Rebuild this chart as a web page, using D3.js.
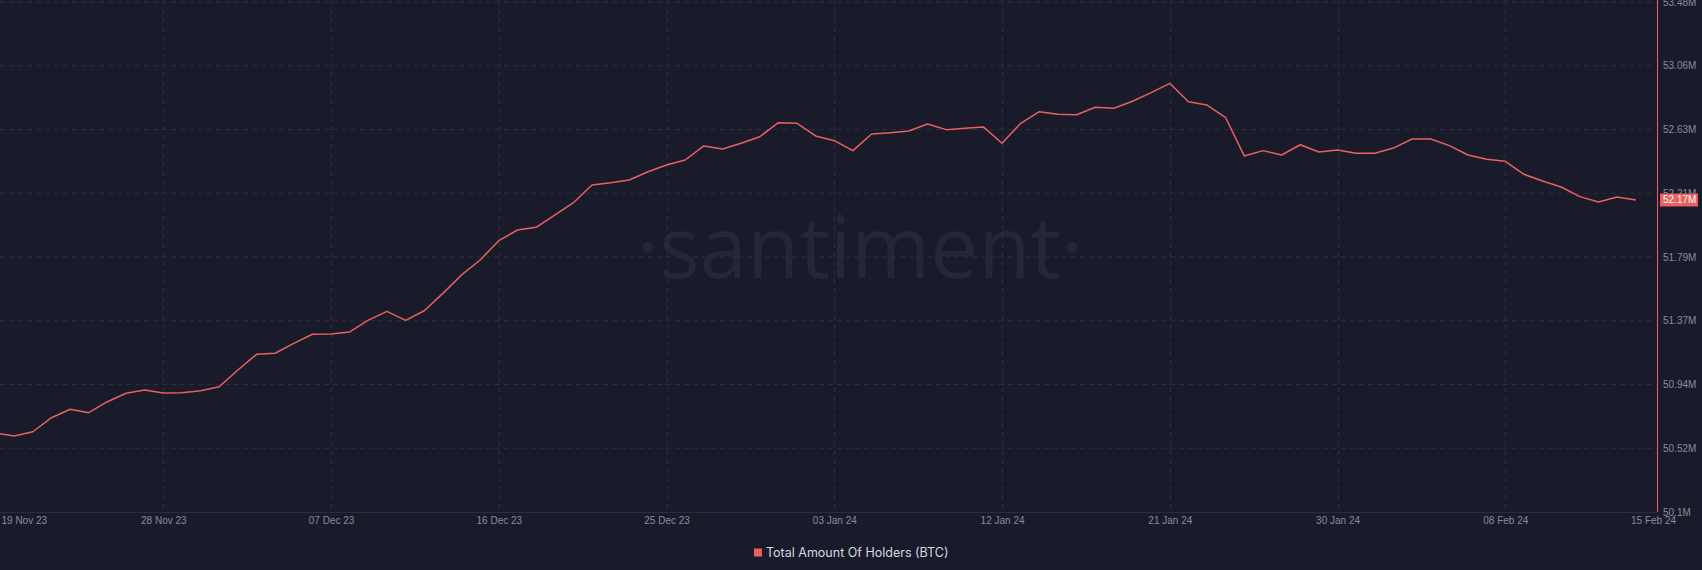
<!DOCTYPE html>
<html>
<head>
<meta charset="utf-8">
<script src="https://cdn.jsdelivr.net/npm/d3@7"></script>
<style>
  html, body { margin: 0; padding: 0; background: #1a1b2a; overflow: hidden; }
  svg { display: block; }
</style>
</head>
<body>
<svg id="chart" width="1702" height="570"></svg>
<script>
// ---------- DATA ----------
const startDate = "2023-11-19";
const endDate = "2024-02-15";
const seriesName = "Total Amount Of Holders (BTC)";
// daily values, in millions of holders
const holders = [
  50.624, 50.604, 50.632, 50.725, 50.781, 50.758, 50.831, 50.887, 50.909, 50.889, 50.891, 50.904,
  50.930, 51.041, 51.145, 51.152, 51.218, 51.278, 51.279, 51.293, 51.372, 51.430, 51.370, 51.434,
  51.549, 51.671, 51.770, 51.898, 51.969, 51.987, 52.068, 52.150, 52.267, 52.282, 52.300, 52.355,
  52.400, 52.433, 52.526, 52.506, 52.544, 52.587, 52.680,
  52.676, 52.592, 52.561, 52.495, 52.605, 52.614, 52.625, 52.671, 52.634, 52.643, 52.652, 52.544,
  52.676, 52.753, 52.736, 52.733, 52.782, 52.776, 52.822, 52.879, 52.941, 52.819, 52.797, 52.713,
  52.459, 52.495, 52.466, 52.534, 52.486, 52.499, 52.477,
  52.477, 52.512, 52.572, 52.572, 52.528, 52.466, 52.438, 52.424, 52.338, 52.294, 52.254, 52.190,
  52.155, 52.188, 52.168
];
const yTickValues = [50.1, 50.5225, 50.945, 51.3675, 51.79, 52.2125, 52.635, 53.0575, 53.48];
const yTickLabels = ["50.1M", "50.52M", "50.94M", "51.37M", "51.79M", "52.21M", "52.63M", "53.06M", "53.48M"];
const xTickDates = ["2023-11-19", "2023-11-28", "2023-12-07", "2023-12-16", "2023-12-25",
                    "2024-01-03", "2024-01-12", "2024-01-21", "2024-01-30", "2024-02-08", "2024-02-15"];
const xTickLabels = ["19 Nov 23", "28 Nov 23", "07 Dec 23", "16 Dec 23", "25 Dec 23",
                     "03 Jan 24", "12 Jan 24", "21 Jan 24", "30 Jan 24", "08 Feb 24", "15 Feb 24"];

// ---------- LAYOUT ----------
const W = 1702, H = 570;
const plot = { left: 0, right: 1657, top: 2, bottom: 512 };
const colors = {
  bg: "#1a1b2a", line: "#e8605f", grid: "#2a2d40", axis: "#2a2d3d",
  tick: "#868c9f", legend: "#d6d8e0", watermark: "#232739"
};

const parse = d3.utcParse("%Y-%m-%d");
const dates = d3.utcDay.range(parse(startDate), d3.utcDay.offset(parse(endDate), 1));
const data = dates.map((d, i) => ({ date: d, value: holders[i] }));

const svg = d3.select("#chart");
svg.append("rect").attr("width", W).attr("height", H).attr("fill", colors.bg);

// x scale: anchored so that the plot spans from 19 Nov ~05:40 to 16 Feb ~03:20
const x = d3.scaleUtc()
  .domain([parse("2023-11-28"), parse("2024-02-08")])
  .range([163.3, 1505.3]);
const y = d3.scaleLinear()
  .domain([yTickValues[0], yTickValues[yTickValues.length - 1]])
  .range([plot.bottom, plot.top]);

// watermark
const wm = svg.append("text")
  .attr("x", 860).attr("y", 278)
  .attr("text-anchor", "middle")
  .attr("font-family", "'Open Sans', 'Noto Sans', sans-serif")
  .attr("font-size", 110)
  .attr("fill", colors.watermark)
  .text("·santiment·");
const wmLen = wm.node().getComputedTextLength();
wm.attr("font-size", 110 * 447 / wmLen);

// grid
const grid = svg.append("g");
grid.selectAll("line.h")
  .data(yTickValues.slice(1))
  .join("line")
  .attr("x1", plot.left).attr("x2", plot.right)
  .attr("y1", d => y(d)).attr("y2", d => y(d))
  .attr("stroke", colors.grid).attr("stroke-width", 1)
  .attr("stroke-dasharray", "5,4");
grid.selectAll("line.v")
  .data(xTickDates.slice(1, -1).map(parse))
  .join("line")
  .attr("x1", d => Math.round(x(d)) + 0.5).attr("x2", d => Math.round(x(d)) + 0.5)
  .attr("y1", plot.top - 2).attr("y2", plot.bottom)
  .attr("stroke", colors.grid).attr("stroke-width", 1)
  .attr("stroke-dasharray", "5,4");

// bottom axis
const xAxis = d3.axisBottom(x)
  .tickValues(xTickDates.map(parse))
  .tickSize(0)
  .tickFormat((d, i) => xTickLabels[i]);
const gx = svg.append("g").attr("transform", `translate(0,${plot.bottom})`).call(xAxis);
gx.select(".domain").attr("stroke", colors.axis).attr("d", `M${plot.left},0.5H${plot.right}`);
gx.selectAll(".tick text")
  .attr("fill", colors.tick)
  .attr("font-family", "'Liberation Sans', Arial, sans-serif")
  .attr("font-size", 10)
  .attr("dy", "0.32em")
  .attr("y", 9);
const nTicks = xTickDates.length;
gx.selectAll(".tick").filter((d, i) => i === 0).select("text")
  .attr("text-anchor", "start").attr("x", 1 - x(parse(xTickDates[0])));
gx.selectAll(".tick").filter((d, i) => i === nTicks - 1).select("text")
  .attr("text-anchor", "middle").attr("x", plot.right - 4 - x(parse(xTickDates[nTicks - 1])));

// clip + line
svg.append("clipPath").attr("id", "clip")
  .append("rect").attr("x", plot.left).attr("y", 0)
  .attr("width", plot.right - plot.left).attr("height", plot.bottom);
const line = d3.line().x(d => x(d.date)).y(d => y(d.value));
svg.append("path")
  .datum(data)
  .attr("clip-path", "url(#clip)")
  .attr("fill", "none")
  .attr("stroke", colors.line)
  .attr("stroke-width", 1.5)
  .attr("stroke-linejoin", "round")
  .attr("d", line);

// right axis
const yAxis = d3.axisRight(y)
  .tickValues(yTickValues)
  .tickSize(0)
  .tickFormat((d, i) => yTickLabels[i]);
const gy = svg.append("g").attr("transform", `translate(${plot.right},0)`).call(yAxis);
gy.select(".domain").attr("stroke", colors.line).attr("stroke-width", 1)
  .attr("d", `M0.5,0V${plot.bottom}`);
gy.selectAll(".tick text")
  .attr("fill", colors.tick)
  .attr("font-family", "'Liberation Sans', Arial, sans-serif")
  .attr("font-size", 10)
  .attr("x", 6);

// last value label
const last = data[data.length - 1];
const lastG = svg.append("g").attr("transform", `translate(${plot.right + 3},${y(last.value)})`);
lastG.append("rect").attr("x", 0).attr("y", -6.5).attr("width", 38).attr("height", 13)
  .attr("fill", colors.line);
lastG.append("text").attr("x", 3).attr("dy", "0.35em")
  .attr("fill", "#ffffff")
  .attr("font-family", "'Liberation Sans', Arial, sans-serif")
  .attr("font-size", 10)
  .text(d3.format(".2f")(last.value) + "M");

// legend
const lg = svg.append("g").attr("transform", "translate(754,552.5)");
lg.append("rect").attr("x", 0).attr("y", -4).attr("width", 8).attr("height", 8).attr("fill", colors.line);
lg.append("text").attr("x", 12).attr("dy", "0.35em")
  .attr("fill", colors.legend)
  .attr("font-family", "Inter, 'Liberation Sans', sans-serif")
  .attr("font-size", 12.5)
  .text(seriesName);
</script>
</body>
</html>
